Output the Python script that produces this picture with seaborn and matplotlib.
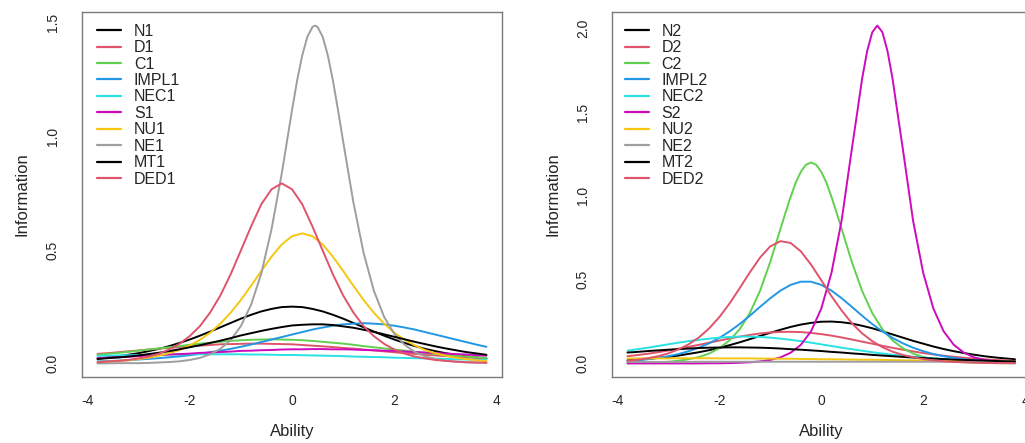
import matplotlib
matplotlib.use("Agg")
import matplotlib.pyplot as plt
import seaborn as sns

# ---------------- data (item information) ----------------
theta = [-3.8, -3.6, -3.4, -3.2, -3.0, -2.8, -2.6, -2.4, -2.2, -2.0, -1.8, -1.6, -1.4,
         -1.2, -1.0, -0.8, -0.6, -0.4, -0.2, 0.0, 0.2, 0.4, 0.6, 0.8, 1.0, 1.2, 1.4,
         1.6, 1.8, 2.0, 2.2, 2.4, 2.6, 2.8, 3.0, 3.2, 3.4, 3.6, 3.8]
theta_ne1 = [-3.8, -3.6, -3.4, -3.2, -3.0, -2.8, -2.6, -2.4, -2.2, -2.0, -1.8, -1.6, -1.4,
             -1.2, -1.0, -0.8, -0.6, -0.4, -0.2, 0.0, 0.1, 0.2, 0.3, 0.4, 0.45, 0.5, 0.6,
             0.7, 0.8, 0.9, 1.0, 1.2, 1.4, 1.6, 1.8, 2.0, 2.2, 2.4, 2.6, 2.8, 3.0, 3.2,
             3.4, 3.6, 3.8]
theta_s2 = [-3.8, -3.6, -3.4, -3.2, -3.0, -2.8, -2.6, -2.4, -2.2, -2.0, -1.8, -1.6, -1.4,
            -1.2, -1.0, -0.8, -0.6, -0.4, -0.2, 0.0, 0.2, 0.4, 0.6, 0.7, 0.8, 0.9, 1.0,
            1.1, 1.2, 1.3, 1.4, 1.5, 1.6, 1.8, 2.0, 2.2, 2.4, 2.6, 2.8, 3.0, 3.2, 3.4,
            3.6, 3.8]
theta_c2 = [-3.8, -3.6, -3.4, -3.2, -3.0, -2.8, -2.6, -2.4, -2.2, -2.0, -1.8, -1.6, -1.4,
            -1.2, -1.0, -0.8, -0.7, -0.6, -0.5, -0.4, -0.3, -0.2, -0.1, 0.0, 0.1, 0.2,
            0.3, 0.4, 0.6, 0.8, 1.0, 1.2, 1.4, 1.6, 1.8, 2.0, 2.2, 2.4, 2.6, 2.8, 3.0,
            3.2, 3.4, 3.6, 3.8]

labels_1 = ["N1", "D1", "C1", "IMPL1", "NEC1", "S1", "NU1", "NE1", "MT1", "DED1"]
labels_2 = ["N2", "D2", "C2", "IMPL2", "NEC2", "S2", "NU2", "NE2", "MT2", "DED2"]

N1 = [0.021, 0.026, 0.031, 0.038, 0.045, 0.054, 0.064, 0.076, 0.090, 0.105, 0.122, 0.140, 0.159,
      0.178, 0.197, 0.214, 0.229, 0.240, 0.248, 0.250, 0.248, 0.240, 0.229, 0.214, 0.197, 0.178,
      0.159, 0.140, 0.122, 0.105, 0.090, 0.076, 0.064, 0.054, 0.045, 0.038, 0.031, 0.026, 0.021]
D1 = [0.042, 0.045, 0.049, 0.053, 0.057, 0.061, 0.065, 0.068, 0.072, 0.075, 0.078, 0.081, 0.084,
      0.085, 0.086, 0.087, 0.087, 0.086, 0.085, 0.084, 0.081, 0.078, 0.075, 0.072, 0.068, 0.065,
      0.061, 0.057, 0.053, 0.049, 0.045, 0.042, 0.038, 0.035, 0.032, 0.029, 0.026, 0.024, 0.021]
C1 = [0.038, 0.042, 0.046, 0.051, 0.056, 0.061, 0.066, 0.071, 0.076, 0.082, 0.087, 0.091, 0.095,
      0.099, 0.102, 0.104, 0.105, 0.106, 0.105, 0.104, 0.102, 0.099, 0.095, 0.091, 0.087, 0.082,
      0.076, 0.071, 0.066, 0.061, 0.056, 0.051, 0.046, 0.042, 0.038, 0.034, 0.031, 0.027, 0.024]
IMPL1 = [0.009, 0.010, 0.012, 0.014, 0.017, 0.020, 0.023, 0.027, 0.031, 0.036, 0.042, 0.049, 0.056,
         0.064, 0.073, 0.083, 0.094, 0.105, 0.116, 0.127, 0.138, 0.149, 0.158, 0.166, 0.172, 0.175,
         0.177, 0.175, 0.172, 0.166, 0.158, 0.149, 0.138, 0.127, 0.116, 0.105, 0.094, 0.083, 0.073]
NEC1 = [0.033, 0.034, 0.035, 0.036, 0.037, 0.037, 0.038, 0.039, 0.039, 0.040, 0.040, 0.040, 0.040,
        0.040, 0.040, 0.039, 0.039, 0.038, 0.037, 0.037, 0.036, 0.035, 0.034, 0.033, 0.032, 0.030,
        0.029, 0.028, 0.027, 0.025, 0.024, 0.023, 0.022, 0.021, 0.020, 0.018, 0.017, 0.016, 0.015]
S1 = [0.023, 0.025, 0.027, 0.029, 0.032, 0.034, 0.036, 0.039, 0.041, 0.043, 0.046, 0.048, 0.050,
      0.052, 0.055, 0.056, 0.058, 0.059, 0.061, 0.062, 0.062, 0.063, 0.063, 0.062, 0.062, 0.061,
      0.059, 0.058, 0.056, 0.055, 0.052, 0.050, 0.048, 0.046, 0.043, 0.041, 0.039, 0.036, 0.034]
NU1 = [0.006, 0.008, 0.010, 0.014, 0.019, 0.025, 0.034, 0.045, 0.059, 0.079, 0.104, 0.135, 0.175,
       0.223, 0.279, 0.342, 0.407, 0.470, 0.524, 0.560, 0.573, 0.560, 0.524, 0.470, 0.407, 0.342,
       0.279, 0.223, 0.175, 0.135, 0.104, 0.079, 0.059, 0.045, 0.034, 0.025, 0.019, 0.014, 0.010]
NE1 = [0.000, 0.000, 0.001, 0.001, 0.001, 0.002, 0.004, 0.006, 0.009, 0.015, 0.024, 0.040, 0.064,
       0.102, 0.164, 0.258, 0.396, 0.591, 0.837, 1.115, 1.246, 1.357, 1.439, 1.482, 1.488, 1.482,
       1.439, 1.357, 1.246, 1.115, 0.977, 0.709, 0.486, 0.320, 0.205, 0.130, 0.082, 0.050, 0.031,
       0.019, 0.012, 0.007, 0.005, 0.003, 0.002]
MT1 = [0.019, 0.023, 0.026, 0.030, 0.035, 0.041, 0.047, 0.054, 0.062, 0.071, 0.080, 0.090, 0.100,
       0.111, 0.123, 0.133, 0.143, 0.152, 0.160, 0.167, 0.170, 0.172, 0.172, 0.169, 0.163, 0.157,
       0.148, 0.139, 0.128, 0.117, 0.106, 0.095, 0.085, 0.075, 0.066, 0.058, 0.050, 0.044, 0.038]
DED1 = [0.005, 0.008, 0.011, 0.015, 0.022, 0.030, 0.043, 0.061, 0.086, 0.120, 0.164, 0.224, 0.299,
        0.392, 0.497, 0.603, 0.701, 0.767, 0.793, 0.767, 0.701, 0.603, 0.497, 0.392, 0.299, 0.224,
        0.164, 0.120, 0.086, 0.061, 0.043, 0.030, 0.022, 0.015, 0.011, 0.008, 0.005, 0.004, 0.003]

N2 = [0.019, 0.023, 0.027, 0.033, 0.039, 0.047, 0.057, 0.067, 0.079, 0.093, 0.109, 0.126, 0.145,
      0.164, 0.183, 0.201, 0.218, 0.232, 0.242, 0.249, 0.250, 0.246, 0.238, 0.225, 0.210, 0.192,
      0.173, 0.154, 0.135, 0.118, 0.101, 0.086, 0.073, 0.062, 0.052, 0.043, 0.036, 0.030, 0.025]
D2 = [0.043, 0.050, 0.058, 0.067, 0.077, 0.088, 0.099, 0.111, 0.124, 0.136, 0.149, 0.160, 0.170,
      0.179, 0.185, 0.188, 0.189, 0.187, 0.182, 0.175, 0.166, 0.155, 0.143, 0.130, 0.118, 0.105,
      0.093, 0.082, 0.072, 0.062, 0.054, 0.046, 0.040, 0.034, 0.029, 0.025, 0.021, 0.018, 0.015]
C2 = [0.002, 0.003, 0.004, 0.007, 0.010, 0.016, 0.025, 0.038, 0.059, 0.091, 0.137, 0.204, 0.301,
      0.434, 0.606, 0.803, 0.901, 0.995, 1.080, 1.144, 1.186, 1.200, 1.186, 1.144, 1.080, 0.995,
      0.901, 0.803, 0.606, 0.434, 0.301, 0.204, 0.137, 0.091, 0.059, 0.038, 0.025, 0.016, 0.010,
      0.007, 0.004, 0.003, 0.002, 0.001, 0.001]
IMPL2 = [0.014, 0.019, 0.025, 0.033, 0.043, 0.056, 0.073, 0.094, 0.120, 0.152, 0.191, 0.235, 0.285,
         0.338, 0.389, 0.435, 0.469, 0.488, 0.488, 0.469, 0.435, 0.389, 0.338, 0.285, 0.235, 0.191,
         0.152, 0.120, 0.094, 0.073, 0.056, 0.043, 0.033, 0.025, 0.019, 0.014, 0.011, 0.008, 0.006]
NEC2 = [0.076, 0.085, 0.094, 0.104, 0.114, 0.124, 0.133, 0.141, 0.148, 0.154, 0.158, 0.160, 0.160,
        0.158, 0.154, 0.148, 0.141, 0.133, 0.124, 0.114, 0.104, 0.094, 0.085, 0.076, 0.067, 0.059,
        0.052, 0.046, 0.040, 0.035, 0.030, 0.026, 0.022, 0.019, 0.017, 0.014, 0.012, 0.011, 0.009]
S2 = [0.000, 0.000, 0.000, 0.000, 0.000, 0.000, 0.000, 0.000, 0.001, 0.001, 0.002, 0.004, 0.007,
      0.012, 0.021, 0.036, 0.064, 0.111, 0.192, 0.327, 0.540, 0.854, 1.281, 1.487, 1.697, 1.864,
      1.977, 2.017, 1.977, 1.864, 1.697, 1.487, 1.281, 0.854, 0.540, 0.327, 0.192, 0.111, 0.064,
      0.036, 0.021, 0.012, 0.007, 0.004]
NU2 = [0.029, 0.030, 0.030, 0.030, 0.030, 0.031, 0.031, 0.031, 0.031, 0.030, 0.030, 0.030, 0.030,
       0.029, 0.029, 0.028, 0.028, 0.027, 0.026, 0.025, 0.025, 0.024, 0.023, 0.022, 0.022, 0.021,
       0.020, 0.019, 0.018, 0.017, 0.017, 0.016, 0.015, 0.014, 0.014, 0.013, 0.012, 0.012, 0.011]
NE2 = [0.009, 0.009, 0.009, 0.009, 0.009, 0.009, 0.009, 0.010, 0.010, 0.010, 0.010, 0.010, 0.010,
       0.010, 0.010, 0.010, 0.010, 0.010, 0.010, 0.010, 0.010, 0.010, 0.010, 0.010, 0.010, 0.010,
       0.010, 0.010, 0.010, 0.010, 0.010, 0.010, 0.009, 0.009, 0.009, 0.009, 0.009, 0.009, 0.009]
MT2 = [0.065, 0.069, 0.074, 0.078, 0.082, 0.085, 0.089, 0.092, 0.094, 0.095, 0.096, 0.096, 0.095,
       0.094, 0.092, 0.089, 0.085, 0.082, 0.078, 0.074, 0.069, 0.065, 0.060, 0.056, 0.051, 0.047,
       0.043, 0.039, 0.035, 0.032, 0.029, 0.026, 0.023, 0.021, 0.019, 0.017, 0.015, 0.013, 0.012]
DED2 = [0.016, 0.022, 0.031, 0.043, 0.060, 0.084, 0.114, 0.155, 0.209, 0.276, 0.357, 0.449, 0.544,
        0.632, 0.699, 0.730, 0.719, 0.669, 0.590, 0.497, 0.402, 0.316, 0.240, 0.180, 0.133, 0.097,
        0.070, 0.051, 0.037, 0.026, 0.019, 0.013, 0.009, 0.007, 0.005, 0.003, 0.002, 0.002, 0.001]

x_ticks = [-4, -2, 0, 2, 4]
y_ticks_1 = [0.0, 0.5, 1.0, 1.5]
y_ticks_2 = [0.0, 0.5, 1.0, 1.5, 2.0]

# R palette("R4") colours, recycled for the 9th and 10th series
colors = ["#000000", "#DF536B", "#61D04F", "#2297E6", "#28E2E5",
          "#CD0BBC", "#F5C710", "#9E9E9E", "#000000", "#DF536B"]

# ---------------- style ----------------
sns.set_theme(style="white")
plt.rcParams['font.family'] = ['Liberation Sans', 'DejaVu Sans']

fig = plt.figure(figsize=(10.25, 4.43), dpi=100)
W, H = 1025.0, 443.0
ax1 = fig.add_axes([82 / W, 66 / H, 420 / W, 365 / H])
ax2 = fig.add_axes([612 / W, 66 / H, 418.5 / W, 365 / H])

panel_1 = [(theta, N1), (theta, D1), (theta, C1), (theta, IMPL1), (theta, NEC1),
           (theta, S1), (theta, NU1), (theta_ne1, NE1), (theta, MT1), (theta, DED1)]
panel_2 = [(theta, N2), (theta, D2), (theta_c2, C2), (theta, IMPL2), (theta, NEC2),
           (theta_s2, S2), (theta, NU2), (theta, NE2), (theta, MT2), (theta, DED2)]

frame_col = "#7a7a7a"
text_col = "#262626"


def draw_panel(ax, series, labels, yticks, ylim, leg_x):
    for (xs, ys), lab, col in zip(series, labels, colors):
        sns.lineplot(x=xs, y=ys, ax=ax, color=col, linewidth=1.4, label=lab,
                     estimator=None, sort=True)
    ax.set_xlim(-4.104, 4.104)
    ax.set_ylim(*ylim)
    ax.set_xticks(x_ticks)
    ax.set_xticklabels([str(t) for t in x_ticks])
    ax.set_yticks(yticks)
    ax.set_yticklabels([f"{t:.1f}" for t in yticks])
    ax.tick_params(axis="both", direction="out", length=6, width=1.0, color=frame_col,
                   labelsize=10, labelcolor=text_col)
    ax.tick_params(axis="x", pad=6)
    ax.tick_params(axis="y", pad=10, labelrotation=90)
    for lab in ax.get_yticklabels():
        lab.set_verticalalignment("center")
    for sp in ax.spines.values():
        sp.set_visible(True)
        sp.set_color(frame_col)
        sp.set_linewidth(1.0)
    ax.set_xlabel("Ability", fontsize=12, color=text_col)
    ax.set_ylabel("Information", fontsize=12, color=text_col)
    ax.xaxis.set_label_coords(0.5, -0.128)
    ax.yaxis.set_label_coords(-0.124, 0.5)
    ax.grid(False)
    ax.set_facecolor("white")
    leg = ax.legend(loc="upper left", bbox_to_anchor=(leg_x, 0.968), frameon=False,
                    fontsize=11.5, handlelength=1.5, handletextpad=0.8,
                    labelspacing=0.09, borderpad=0.0, borderaxespad=0.0)
    for t in leg.get_texts():
        t.set_color(text_col)
    for h in leg.get_lines():
        h.set_linewidth(1.6)


draw_panel(ax1, panel_1, labels_1, y_ticks_1, (-0.06, 1.548), 0.036)
draw_panel(ax2, panel_2, labels_2, y_ticks_2, (-0.081, 2.098), 0.031)

fig.savefig("out.png", dpi=100, facecolor="white")
